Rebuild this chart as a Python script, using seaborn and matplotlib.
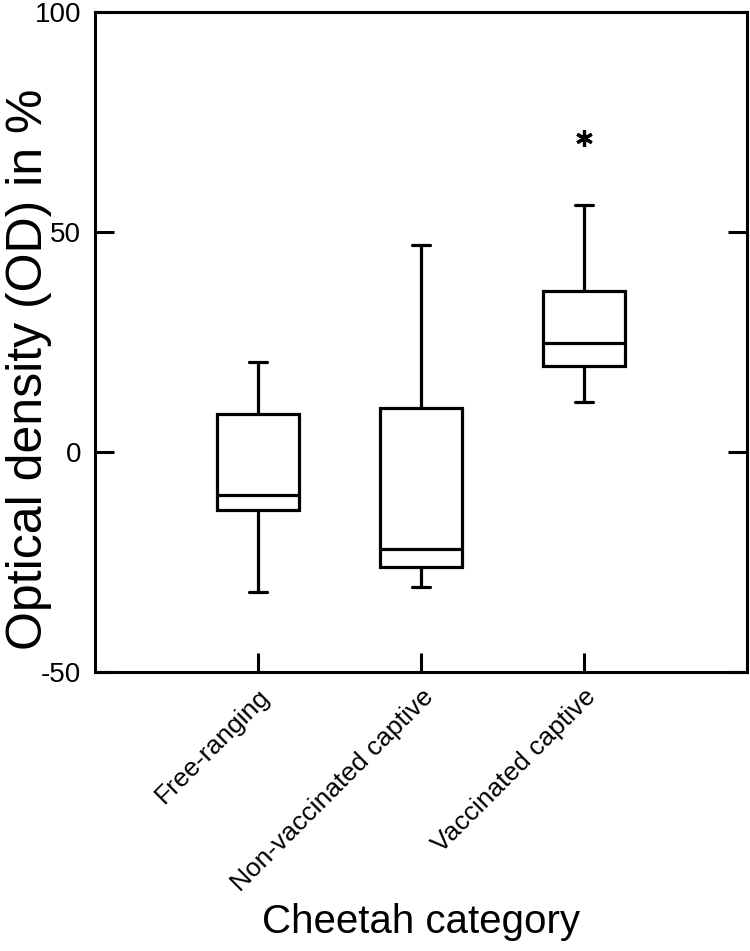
import numpy as np
import pandas as pd
import matplotlib
matplotlib.use("Agg")
import matplotlib.pyplot as plt
import seaborn as sns

# box summaries (OD in %)
categories = ["Free-ranging", "Non-vaccinated captive", "Vaccinated captive"]
whisker_low = [-31.8, -30.7, 11.4]
q1 = [-13.2, -26.1, 19.5]
median = [-9.8, -22.0, 24.8]
q3 = [8.6, 10.0, 36.7]
whisker_high = [20.5, 47.0, 56.1]
outliers = [[], [], [71.4]]

y_ticks = [-50, 0, 50, 100]

# rebuild a sample per group that has exactly these quartiles / whiskers
rows = []
for i, cat in enumerate(categories):
    vals = [whisker_low[i], q1[i], q1[i], median[i], median[i], q3[i], q3[i], whisker_high[i]]
    vals += outliers[i]
    for v in vals:
        rows.append({"category": cat, "od": v})
df = pd.DataFrame(rows)

sns.set_style("ticks")
plt.rcParams["font.family"] = ["Liberation Sans", "DejaVu Sans"]
plt.rcParams["text.color"] = "black"
plt.rcParams["axes.labelcolor"] = "black"

fig = plt.figure(figsize=(7.5, 9.51), dpi=100)
ax = fig.add_axes([95 / 750, 1 - 672 / 951, 652 / 750, 660 / 951])

lw = 2.3
sns.boxplot(data=df, x="category", y="od", order=categories, ax=ax,
            color="white", linecolor="black", linewidth=lw, width=0.5,
            capwidths=0.11,
            flierprops=dict(marker=(6, 2, 0), markersize=12,
                            markeredgecolor="black", markerfacecolor="black",
                            markeredgewidth=2.3))

ax.set_xlim(-1, 3)
ax.set_ylim(-50, 100)
ax.set_yticks(y_ticks)
ax.set_yticklabels([str(t) for t in y_ticks])

for side in ["left", "right", "top", "bottom"]:
    ax.spines[side].set_visible(True)
    ax.spines[side].set_linewidth(2.2)
    ax.spines[side].set_color("black")

ax.tick_params(axis="y", direction="in", length=14, width=2.2, labelsize=20,
               left=True, right=True, labelright=False, pad=10,
               color="black", labelcolor="black")
ax.tick_params(axis="x", direction="in", length=14, width=2.2, labelsize=19,
               bottom=True, top=False, pad=9,
               color="black", labelcolor="black")

for lab in ax.get_xticklabels():
    lab.set_rotation(45)
    lab.set_ha("right")
    lab.set_va("top")
    lab.set_rotation_mode("anchor")

ax.set_xlabel("Cheetah category", fontsize=29)
ax.xaxis.set_label_coords(0.5, -0.35)
ax.set_ylabel("Optical density (OD) in %", fontsize=36)
ax.yaxis.set_label_coords(-0.066, 0.458)

fig.savefig("out.png", dpi=100)
